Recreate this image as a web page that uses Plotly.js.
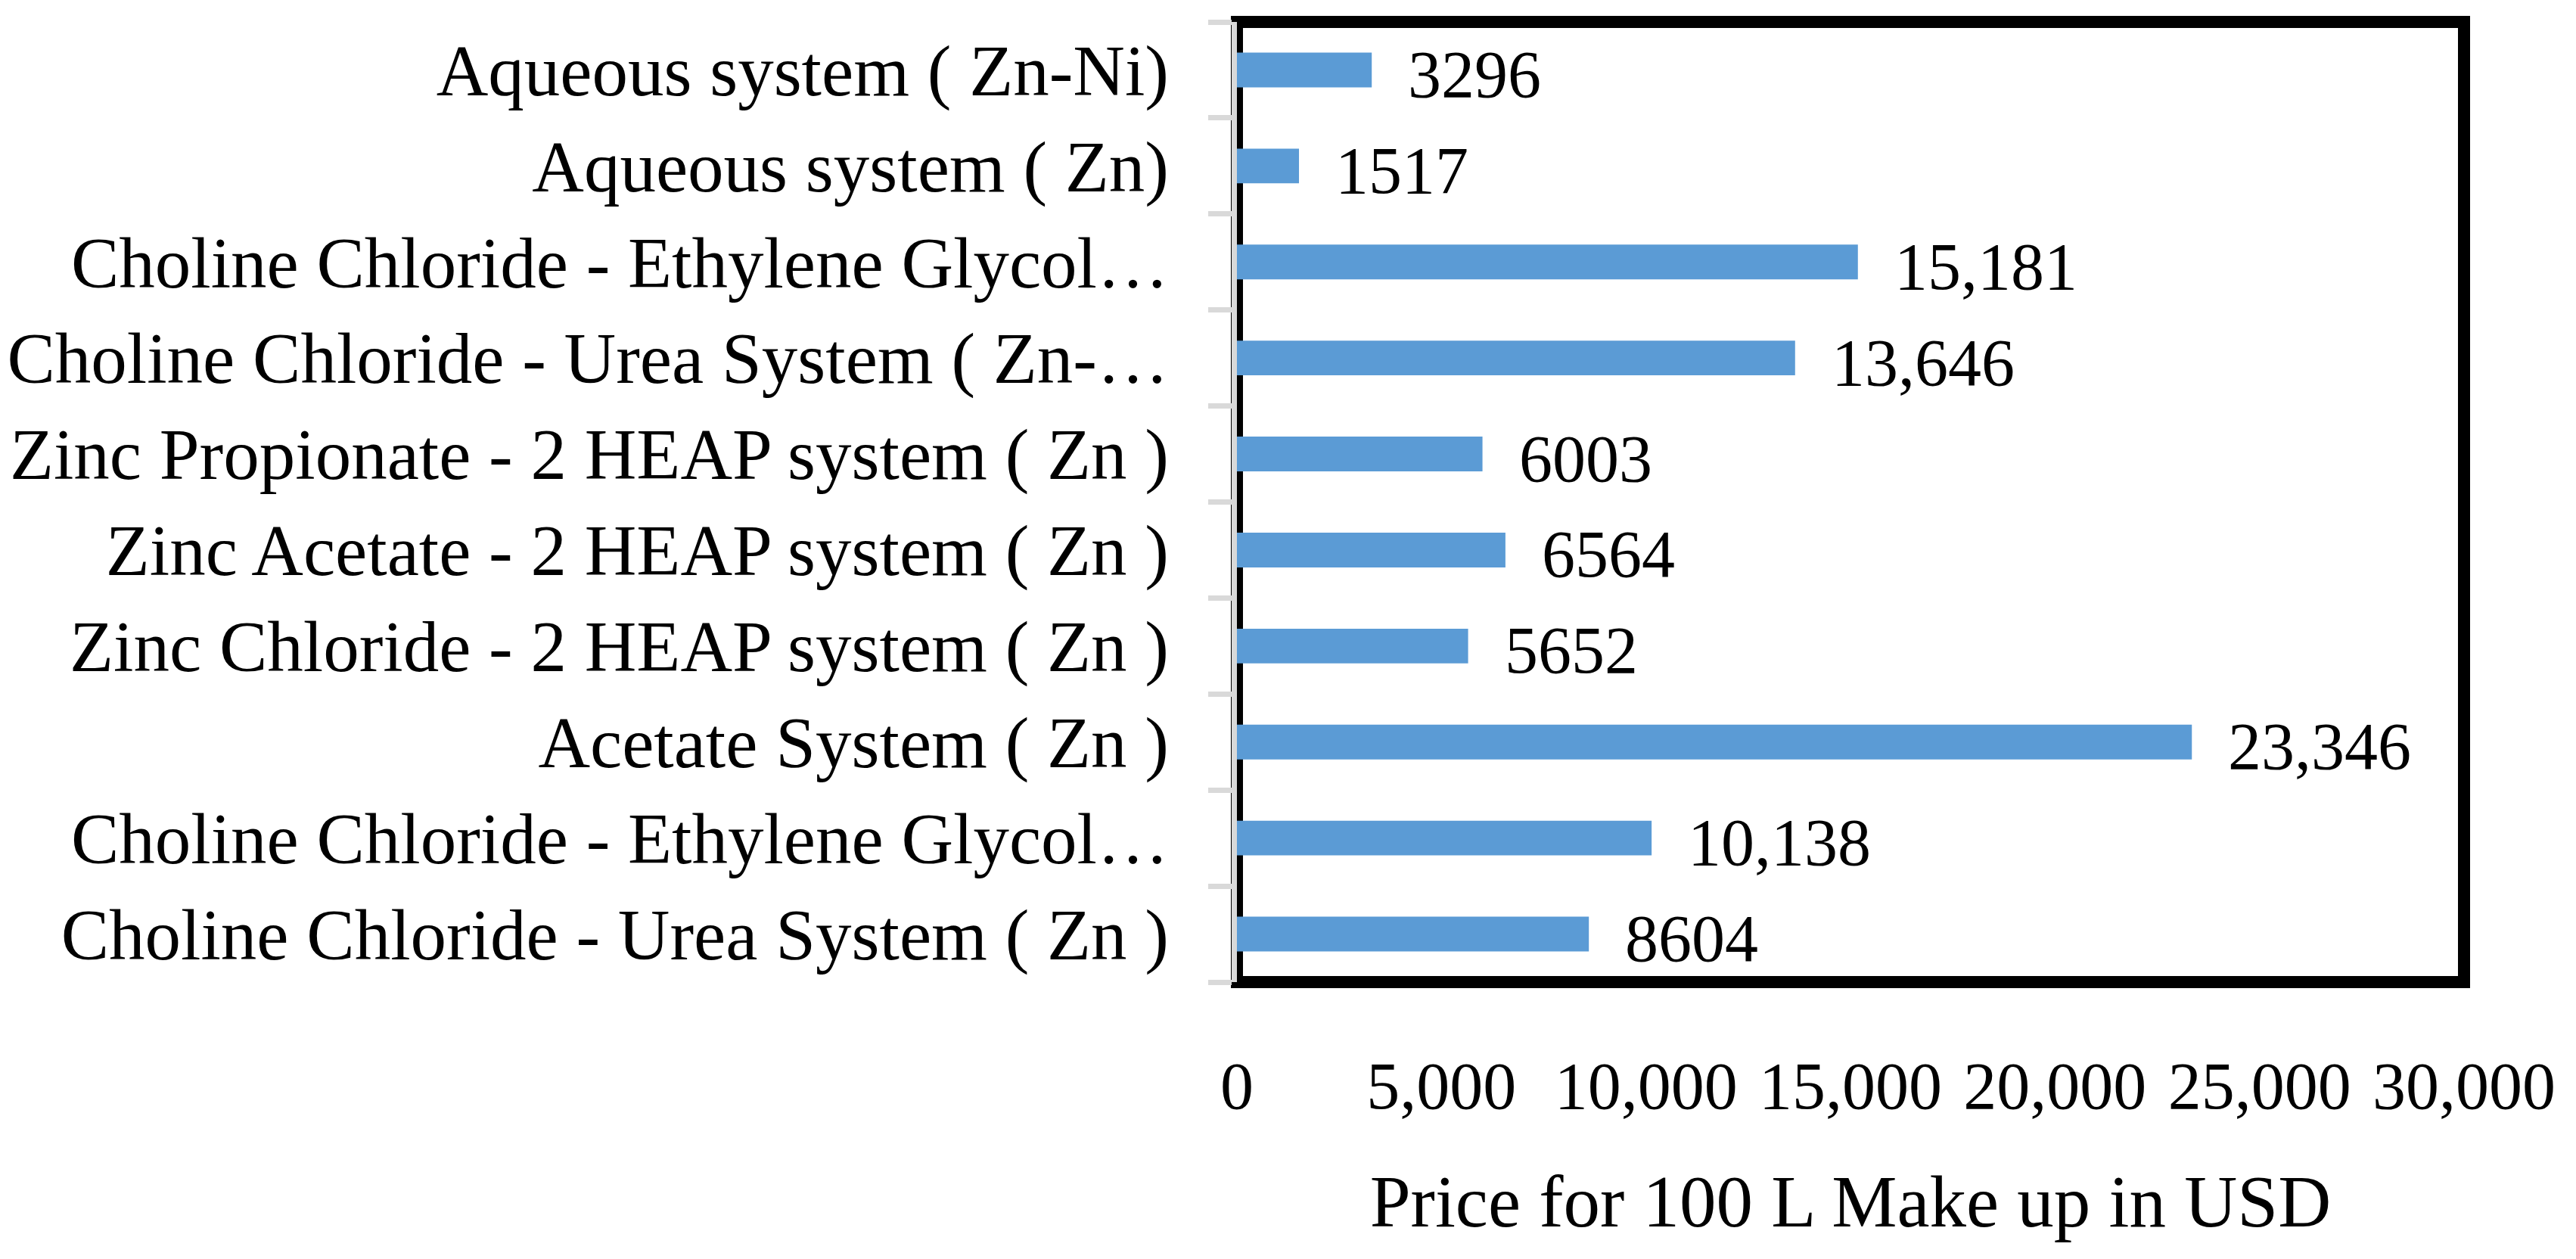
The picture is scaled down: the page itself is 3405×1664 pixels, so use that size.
<!DOCTYPE html>
<html>
<head>
<meta charset="utf-8">
<script src="https://cdn.plot.ly/plotly-3.0.1.min.js"></script>
<style>
html, body { margin: 0; padding: 0; background: #ffffff; }
#chart { width: 3405px; height: 1664px; }
</style>
</head>
<body>
<div id="chart"></div>
<script>
// Categories listed top to bottom, as in the picture
var categories = [
  "Aqueous system ( Zn-Ni)",
  "Aqueous system ( Zn)",
  "Choline Chloride - Ethylene Glycol\u2026",
  "Choline Chloride - Urea System ( Zn-\u2026",
  "Zinc Propionate - 2 HEAP system ( Zn )",
  "Zinc Acetate - 2 HEAP system ( Zn )",
  "Zinc Chloride - 2 HEAP system ( Zn )",
  "Acetate System ( Zn )",
  "Choline Chloride - Ethylene Glycol\u2026",
  "Choline Chloride - Urea System ( Zn )"
];
var prices = [3296, 1517, 15181, 13646, 6003, 6564, 5652, 23346, 10138, 8604];
var priceLabels = ["3296", "1517", "15,181", "13,646", "6003", "6564", "5652", "23,346", "10,138", "8604"];
var xTickValues = [0, 5000, 10000, 15000, 20000, 25000, 30000];
var xTickLabels = ["0", "5,000", "10,000", "15,000", "20,000", "25,000", "30,000"];
var xAxisTitle = "Price for 100 L Make up in USD";

var FONT = "'Liberation Serif', 'Times New Roman', serif";
var positions = categories.map(function (_, i) { return i; });

var trace = {
  type: "bar",
  orientation: "h",
  x: prices,
  y: positions,
  width: 0.362,
  marker: { color: "#5b9bd5", line: { width: 0 } },
  hoverinfo: "x+text",
  text: categories,
  textposition: "none"
};

var annotations = prices.map(function (v, i) {
  return {
    x: v, y: positions[i], xref: "x", yref: "y",
    text: priceLabels[i], showarrow: false,
    xanchor: "left", yanchor: "middle",
    xshift: 46, yshift: -6,
    font: { family: FONT, size: 88, color: "#000000" }
  };
});

var layout = {
  width: 3405,
  height: 1664,
  margin: { l: 1635, r: 148, t: 29, b: 366, pad: 0 },
  paper_bgcolor: "#ffffff",
  plot_bgcolor: "rgba(0,0,0,0)",
  showlegend: false,
  xaxis: {
    range: [0, 30000],
    tickmode: "array",
    tickvals: xTickValues,
    ticktext: xTickLabels,
    ticks: "",
    showgrid: false,
    zeroline: false,
    showline: false,
    ticklabelstandoff: 78,
    tickfont: { family: FONT, size: 88, color: "#000000" },
    title: {
      text: xAxisTitle,
      font: { family: FONT, size: 97, color: "#000000" },
      standoff: 70
    },
    fixedrange: true
  },
  yaxis: {
    range: [9.5, -0.5],
    tickmode: "array",
    tickvals: positions,
    ticktext: categories,
    ticks: "",
    showgrid: false,
    zeroline: false,
    showline: true,
    linecolor: "#d9d9d9",
    linewidth: 7,
    ticklabelstandoff: 64,
    tickfont: { family: FONT, size: 95, color: "#000000" },
    minor: {
      tick0: 0.5,
      dtick: 1,
      ticks: "outside",
      ticklen: 31,
      tickwidth: 7,
      tickcolor: "#d9d9d9",
      showgrid: false
    },
    fixedrange: true
  },
  shapes: [{
    type: "rect", xref: "paper", yref: "paper",
    x0: 0, x1: 1, y0: 0, y1: 1,
    line: { color: "#000000", width: 16 },
    layer: "below"
  }],
  annotations: annotations
};

Plotly.newPlot("chart", [trace], layout, { staticPlot: true, displayModeBar: false });
</script>
</body>
</html>
